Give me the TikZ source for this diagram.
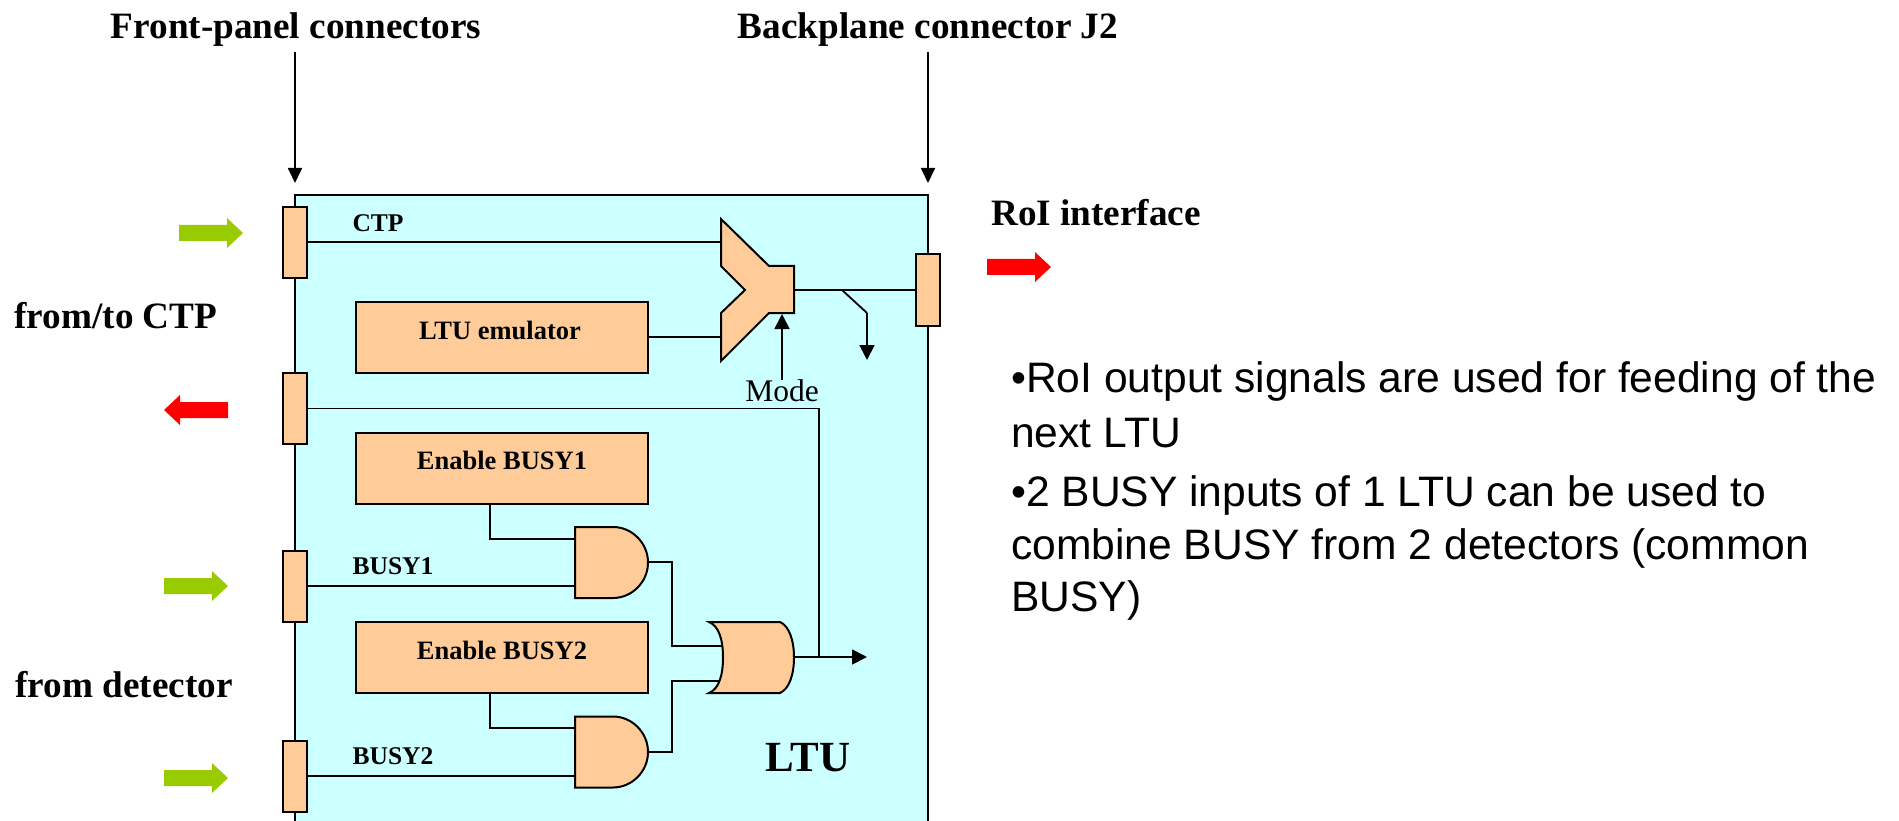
\documentclass[tikz,border=0pt]{standalone}
\usepackage{fontspec}
\setmainfont{Liberation Serif}
\newfontfamily\bodyfont{Liberation Sans}
\usetikzlibrary{arrows.meta}
\definecolor{ltubg}{HTML}{CCFFFF}
\definecolor{blk}{HTML}{FFCC99}
\definecolor{grn}{HTML}{99CC00}
\tikzset{
  wire/.style={draw=black,line width=1.8pt},
  arrowwire/.style={wire,-{Triangle[length=15pt,width=15pt]}},
  port/.style={draw=black,fill=blk,line width=2pt,minimum width=24pt,inner sep=0pt,outer sep=0pt},
  blockbox/.style={draw=black,fill=blk,line width=2pt,minimum width=292pt,minimum height=71pt,inner sep=0pt,outer sep=0pt},
  gate/.style={draw=black,fill=blk,line width=2pt,line join=miter},
  head/.style={font=\fontsize{37.2}{37.2}\selectfont\bfseries,inner sep=0pt,anchor=center},
  inner/.style={font=\fontsize{26.5}{26.5}\selectfont\bfseries,inner sep=0pt,anchor=center},
  sig/.style={font=\fontsize{25.5}{25.5}\selectfont\bfseries,inner sep=0pt,anchor=center},
  bodytext/.style={font=\fontsize{42.6}{42.6}\selectfont\bodyfont,inner sep=0pt,anchor=base west},
  fatgreen/.style={fill=grn,draw=none},
  fatred/.style={fill=red,draw=none},
}
\newcommand{\fatarrow}[4]{% style, tail x, tip x, y
  \fill[#1] ({#2},{#4-8}) -- ({#3-(#3-#2)*0.25},{#4-8}) -- ({#3-(#3-#2)*0.25},{#4-15}) -- (#3,#4)
    -- ({#3-(#3-#2)*0.25},{#4+15}) -- ({#3-(#3-#2)*0.25},{#4+8}) -- ({#2},{#4+8}) -- cycle;}
\begin{document}
\begin{tikzpicture}[x=1pt,y=-1pt]
\useasboundingbox (0,0) rectangle (1899,821);
% LTU panel
\fill[ltubg] (295,195) rectangle (928,821);
\draw[line width=1.8pt] (295,821) -- (295,195) -- (928,195) -- (928,821);
% top labels and arrows
\node[head] (fp) at (296,30) {Front-panel connectors};
\node[head] (bp) at (928,30) {Backplane connector J2};
\coordinate (fpa) at (295,52); \coordinate (fpb) at (295,183);
\coordinate (bpa) at (928,52); \coordinate (bpb) at (928,183);
\draw[wire,-{Triangle[length=15pt,width=14pt]}] (fpa) -- (fpb);
\draw[wire,-{Triangle[length=15pt,width=14pt]}] (bpa) -- (bpb);
% side labels
\node[head] (ri) at (1096,213) {RoI interface};
\node[head] (ct) at (116,316) {from/to CTP};
\node[head] (fd) at (124,685) {from detector};
% wires
\coordinate (ctpin) at (721,242);
\coordinate (emuin) at (721,337);
\coordinate (muxout) at (794,290);
\coordinate (muxsel) at (782,314);
\coordinate (andOneA) at (575,539);
\coordinate (andOneB) at (575,586);
\coordinate (andOneO) at (648,562);
\coordinate (andTwoA) at (575,728);
\coordinate (andTwoB) at (575,776);
\coordinate (andTwoO) at (648,752);
\coordinate (orA) at (722,646);
\coordinate (orB) at (720,681);
\coordinate (orO) at (794,657);
\coordinate (orEnd) at (867,657);
\coordinate (bA) at (842,290);
\coordinate (bB) at (867,313);
\coordinate (bC) at (867,360);
\coordinate (busJ) at (819,657);
% ports
\node[port,minimum height=71pt] (pa) at (295,242.5) {};
\node[port,minimum height=71pt] (pb) at (295,408.5) {};
\node[port,minimum height=71pt] (pc) at (295,586.5) {};
\node[port,minimum height=71pt] (pd) at (295,776.5) {};
\node[port,minimum height=72pt] (pr) at (927.5,290) {};
% blocks
\node[blockbox] (emu) at (502,337.5) {};
\node[blockbox] (enA) at (502,468) {};
\node[blockbox] (enB) at (502,657.5) {};
\node[inner] (emut) at (500,330) {LTU emulator};
\node[inner] (enAt) at (502,460) {Enable BUSY1};
\node[inner] (enBt) at (502,650) {Enable BUSY2};
\node[sig] (tctp) at (378,223) {CTP};
\node[sig] (tb1) at (393,566) {BUSY1};
\node[sig] (tb2) at (393,756) {BUSY2};
\node[font=\fontsize{31.5}{31.5}\selectfont,inner sep=0pt] (mode) at (782,391) {Mode};
\node[font=\fontsize{43}{43}\selectfont\bfseries,inner sep=0pt] (ltu) at (808,757.5) {LTU};
\draw[wire] (pa.east |- ctpin) -- (ctpin);
\draw[wire] (emu.east |- emuin) -- (emuin);
\draw[wire] (muxout) -- (pr.west |- muxout);
\draw[wire] (bA) -- (bB);
\draw[arrowwire] (bB) -- (bC);
\draw[arrowwire] (mode.north -| muxsel) -- (muxsel);
\draw[wire] (pb.east) -| (busJ);
\draw[wire] (enA.south -| 490,0) |- (andOneA);
\draw[wire] (pc.east |- andOneB) -- (andOneB);
\draw[wire] (enB.south -| 490,0) |- (andTwoA);
\draw[wire] (pd.east |- andTwoB) -- (andTwoB);
\draw[wire] (andOneO) -- (672,562) -- (672,646) -- (orA);
\draw[wire] (andTwoO) -- (672,752) -- (672,681) -- (orB);
\draw[arrowwire] (orO) -- (orEnd);
% mux
\draw[gate] (721,219) -- (769,266) -- (794,266) -- (794,313) -- (769,313) -- (721,361) -- (721,313) -- (745,290) -- (721,266) -- cycle;
% AND gates
\draw[gate] (575,527) -- (613,527) .. controls (632,527) and (648,543) .. (648,562.5) .. controls (648,582) and (632,598) .. (613,598) -- (575,598) -- cycle;
\draw[gate] (575,716.5) -- (613,716.5) .. controls (632,716.5) and (648,732.5) .. (648,752) .. controls (648,771.5) and (632,787.5) .. (613,787.5) -- (575,787.5) -- cycle;
% OR gate
\draw[gate] (709,622) -- (780,622) .. controls (789,626) and (794,640) .. (794,657.5) .. controls (794,675) and (789,689) .. (780,693) -- (709,693) .. controls (719,689) and (723,675) .. (723,657.5) .. controls (723,640) and (719,626) .. (709,622) -- cycle;
% fat arrows
\fatarrow{fatgreen}{179}{243}{233}
\fatarrow{fatred}{228}{164}{410}
\fatarrow{fatgreen}{164}{228}{586}
\fatarrow{fatgreen}{164}{228}{778}
\fatarrow{fatred}{987}{1051}{267}
% body text
\node[bodytext] (l1) at (1011,392) {•RoI output signals are used for feeding of the};
\node[bodytext] (l2) at (1011,447) {next LTU};
\node[bodytext] (l3) at (1011,506) {•2 BUSY inputs of 1 LTU can be used to};
\node[bodytext] (l4) at (1011,559) {combine BUSY from 2 detectors (common};
\node[bodytext] (l5) at (1011,611) {BUSY)};
\end{tikzpicture}
\end{document}
